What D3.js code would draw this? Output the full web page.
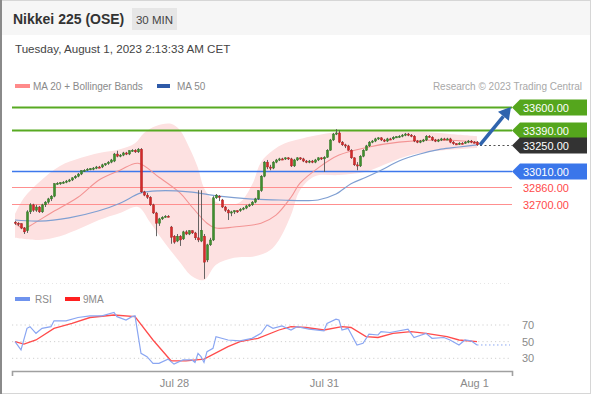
<!DOCTYPE html>
<html>
<head>
<meta charset="utf-8">
<script src="https://cdn.jsdelivr.net/npm/d3@7"></script>
<style>
  html, body { margin: 0; padding: 0; background: #fff; }
  svg { display: block; font-family: "Liberation Sans", Arial, sans-serif; }
</style>
</head>
<body>
<svg id="chart" width="591" height="394"></svg>
<script>
// Nikkei 225 (OSE), 30 min candles (index 0 = first visible bar)
const opens = [
  32535,32525,32520,32480,32455,32630,32695,32645,32675,32630,
  32695,32720,32750,32775,32890,32895,32895,32905,32915,32925,
  32945,32960,32980,33010,33015,33025,33025,33035,33045,33045,
  33065,33075,33090,33100,33165,33145,33155,33175,33165,33195,
  33200,33185,33210,32815,32785,32765,32695,32620,32525,32565,
  32580,32590,32490,32405,32360,32405,32380,32445,32425,32455,
  32435,32390,32360,32405,32185,32325,32370,32760,32775,32740,
  32675,32645,32620,32630,32640,32640,32655,32665,32685,32695,
  32720,32750,32825,32960,33090,33045,33035,33090,33110,33120,
  33120,33130,33120,33055,33110,33130,33120,33100,33090,33100,
  33090,33110,33130,33120,33135,33200,33295,33350,33360,33275,
  33250,33240,33200,33130,33065,33055,33145,33200,33240,33275,
  33285,33305,33315,33295,33285,33305,33305,33320,33320,33330,
  33340,33350,33340,33330,33285,33275,33285,33295,33330,33320,
  33295,33285,33295,33305,33300,33305,33275,33260,33260,33265,
  33265,33275,33285,33275,33275
];
const highs = [
  32545,32535,32525,32490,32645,32710,32705,32695,32685,32705,
  32730,32760,32785,32895,32905,32905,32915,32925,32935,32950,
  32970,32990,33015,33025,33035,33035,33045,33055,33055,33075,
  33080,33100,33120,33175,33195,33165,33185,33185,33200,33210,
  33210,33220,33220,32825,32805,32775,32705,32630,32575,32590,
  32600,32600,32500,32415,32425,32415,32455,32460,32460,32460,
  32445,32830,32830,32425,32335,32390,32775,32795,32785,32750,
  32685,32655,32640,32645,32645,32665,32675,32695,32705,32730,
  32760,32830,32970,33100,33110,33065,33100,33120,33130,33130,
  33135,33135,33130,33120,33135,33135,33130,33110,33110,33110,
  33120,33135,33135,33145,33210,33305,33360,33395,33385,33285,
  33260,33250,33210,33135,33090,33155,33210,33250,33285,33295,
  33315,33320,33320,33305,33315,33315,33330,33330,33340,33350,
  33360,33360,33350,33340,33295,33295,33305,33340,33340,33330,
  33305,33305,33315,33315,33315,33315,33285,33265,33275,33275,
  33285,33295,33295,33285,33285
];
const lows = [
  32510,32500,32470,32425,32435,32610,32630,32630,32620,32620,
  32675,32705,32730,32765,32880,32880,32890,32895,32905,32915,
  32935,32950,32970,33000,33010,33015,33015,33025,33035,33035,
  33055,33065,33080,33090,33135,33135,33145,33155,33155,33185,
  33175,33175,32805,32775,32750,32685,32610,32405,32500,32555,
  32575,32580,32335,32335,32350,32315,32370,32415,32415,32425,
  32370,32350,32350,32010,32165,32315,32360,32750,32730,32665,
  32630,32555,32590,32610,32620,32630,32645,32655,32675,32685,
  32710,32740,32815,32950,33025,33015,33025,33080,33100,33110,
  33110,33110,33045,33045,33100,33110,33090,33080,33080,33080,
  33080,33100,33110,33000,33130,33195,33285,33340,33265,33240,
  33220,33195,33120,33055,33015,33045,33135,33195,33230,33265,
  33275,33295,33285,33275,33275,33295,33295,33315,33315,33320,
  33330,33330,33320,33275,33265,33265,33275,33285,33315,33285,
  33275,33275,33285,33295,33295,33265,33250,33250,33250,33255,
  33260,33265,33265,33265,33240
];
const closes = [
  32525,32520,32480,32445,32630,32695,32645,32675,32630,32695,
  32720,32750,32775,32890,32895,32900,32905,32915,32925,32945,
  32960,32980,33010,33015,33025,33030,33035,33045,33040,33065,
  33075,33090,33110,33165,33145,33155,33175,33165,33195,33200,
  33185,33210,32815,32785,32765,32695,32620,32525,32565,32580,
  32590,32585,32395,32350,32405,32370,32445,32425,32455,32435,
  32390,32370,32460,32165,32325,32370,32760,32785,32765,32675,
  32645,32620,32630,32640,32635,32655,32665,32685,32695,32720,
  32750,32825,32960,33090,33045,33035,33090,33110,33120,33115,
  33130,33120,33055,33110,33130,33120,33100,33090,33100,33090,
  33110,33130,33120,33135,33200,33295,33350,33360,33275,33250,
  33240,33200,33130,33065,33055,33145,33200,33240,33275,33285,
  33305,33315,33295,33285,33305,33300,33320,33325,33330,33340,
  33350,33340,33330,33285,33275,33285,33295,33330,33320,33295,
  33285,33295,33305,33300,33305,33275,33260,33255,33265,33260,
  33275,33285,33275,33270,33250
];

// indicators: [bar index, value]
const ma20 = [[0,32525],[3,32480],[7,32535],[12,32620],[21,32765],[28,32925],[35,33015],[41,33080],
  [48,32950],[55,32805],[59,32675],[64,32525],[67,32480],[73,32490],[82,32525],[87,32600],[92,32765],
  [95,32895],[101,33035],[108,33155],[118,33230],[128,33275],[142,33295],[154,33275]];
const bbUpper = [[0,32610],[3,32760],[8,32905],[15,33055],[22,33130],[28,33175],[35,33210],[40,33265],
  [43,33360],[47,33425],[52,33445],[55,33385],[58,33230],[61,33035],[63,32850],[66,32740],[70,32695],
  [75,32720],[79,32880],[82,33090],[86,33200],[90,33265],[95,33305],[105,33360],[115,33385],
  [125,33380],[135,33370],[145,33350],[154,33330]];
const bbLower = [[0,32390],[8,32370],[15,32405],[22,32480],[28,32555],[35,32620],[41,32675],[45,32535],
  [50,32340],[55,32165],[59,32035],[63,32000],[67,32140],[73,32205],[80,32220],[85,32275],[88,32370],
  [92,32600],[95,32830],[100,32960],[108,32970],[117,33000],[123,33065],[130,33140],[138,33185],[154,33220]];
const ma50 = [[0,32555],[8,32545],[18,32575],[28,32640],[35,32710],[42,32805],[48,32825],[58,32815],
  [68,32775],[78,32750],[88,32740],[101,32740],[107,32795],[112,32890],[117,32950],[122,33015],
  [128,33100],[135,33165],[142,33210],[148,33230],[154,33250]];

const rsi = [[0,50],[2,40],[4,66],[5,68],[7,60],[9,66],[12,68],[13,75],[17,75],[21,79],[25,81],[29,81],
  [33,85],[34,80],[37,76],[39,80],[40,81],[42,36],[44,32],[46,24],[48,24],[51,29],[53,23],[56,28],
  [59,28],[60,25],[61,36],[62,32],[63,25],[64,38],[66,42],[67,56],[71,52],[75,51],[79,54],[82,60],
  [84,70],[86,66],[89,69],[92,64],[94,68],[98,65],[103,63],[104,72],[107,77],[108,76],[109,64],
  [111,66],[114,46],[116,48],[118,59],[121,58],[122,62],[125,61],[131,65],[133,55],[137,60],
  [139,54],[143,55],[145,52],[148,46],[150,52],[152,51],[154,46]];
const rsiMa = [[0,50],[3,47],[7,52],[13,66],[19,72],[25,79],[33,82],[40,80],[46,52],[52,27],[57,27],
  [63,29],[71,44],[75,50],[81,54],[88,64],[92,68],[97,67],[103,64],[109,68],[112,67],[117,56],
  [121,55],[126,60],[132,62],[137,60],[144,56],[148,52],[154,50]];

const levels = [33600, 33390, 33250, 33010, 32860, 32700];
const levelKinds = ["resistance", "resistance", "last", "pivot", "support", "support"];
const rsiTicks = [70, 50, 30];
const dateTicks = [53, 103, 153];
const dateLabels = ["Jul 28", "Jul 31", "Aug 1"];

const W = 591, H = 394;
const svg = d3.select("#chart");

// frame + header
svg.append("rect").attr("x", 0.5).attr("y", 0.5).attr("width", W - 1).attr("height", H - 1)
  .attr("fill", "#fff").attr("stroke", "#d6d6d6");
svg.append("rect").attr("x", 1).attr("y", 1).attr("width", W - 2).attr("height", 34).attr("fill", "#f6f6f6");
svg.append("line").attr("x1", 1).attr("x2", 1).attr("y1", 0).attr("y2", H)
  .attr("stroke", "#8a8a8a").attr("stroke-width", 2);

svg.append("text").attr("x", 13).attr("y", 24)
  .style("font-size", "14px").style("font-weight", "bold").attr("fill", "#333")
  .text("Nikkei 225 (OSE)");
svg.append("rect").attr("x", 132).attr("y", 8).attr("width", 45).attr("height", 22).attr("fill", "#e6e6e6");
svg.append("text").attr("x", 154.5).attr("y", 23.5).attr("text-anchor", "middle")
  .style("font-size", "11.5px").attr("fill", "#444").text("30 MIN");
svg.append("text").attr("x", 15).attr("y", 53)
  .style("font-size", "11.6px").attr("fill", "#444")
  .text("Tuesday, August 1, 2023 2:13:33 AM CET");

// legends
svg.append("rect").attr("x", 15).attr("y", 84).attr("width", 15).attr("height", 4).attr("fill", "#ff8a8a");
svg.append("text").attr("x", 33).attr("y", 90).style("font-size", "10px").attr("fill", "#8a8a8a")
  .text("MA 20 + Bollinger Bands");
svg.append("rect").attr("x", 157).attr("y", 84).attr("width", 13).attr("height", 4).attr("fill", "#2e5aa8");
svg.append("text").attr("x", 177).attr("y", 90).style("font-size", "10px").attr("fill", "#8a8a8a")
  .text("MA 50");
svg.append("text").attr("x", 582).attr("y", 90).attr("text-anchor", "end")
  .style("font-size", "10px").attr("fill", "#a8a8a8").text("Research \u00a9 2023 Trading Central");

svg.append("rect").attr("x", 15).attr("y", 297).attr("width", 15).attr("height", 4).attr("fill", "#6f93ee");
svg.append("text").attr("x", 35).attr("y", 303).style("font-size", "10px").attr("fill", "#8a8a8a").text("RSI");
svg.append("rect").attr("x", 65).attr("y", 297).attr("width", 15).attr("height", 4).attr("fill", "#ff2020");
svg.append("text").attr("x", 83).attr("y", 303).style("font-size", "10px").attr("fill", "#8a8a8a").text("9MA");

// scales
const x = d3.scaleLinear().domain([0, 154]).range([15, 477]);
const y = d3.scaleLinear().domain([32700, 33600]).range([204.3, 107]);
const yr = d3.scaleLinear().domain([30, 70]).range([358.3, 325]);
const left = 12, right = 512;

// panel separator
svg.append("line").attr("x1", left).attr("x2", 510).attr("y1", 283.5).attr("y2", 283.5)
  .attr("stroke", "#e6e6e6").attr("stroke-dasharray", "1,3");

// Bollinger band fill
const bandLine = d3.line().x(d => x(d[0])).y(d => y(d[1])).curve(d3.curveCatmullRom);
const lowerRev = bbLower.slice().reverse();
svg.append("path")
  .attr("d", bandLine(bbUpper) + "L" + bandLine(lowerRev).slice(1) + "Z")
  .attr("fill", "#fde1e1");

// level lines
const levelColor = { resistance: "#58aa22", pivot: "#3d78ec", support: "#ff8f8f", last: "#444" };
levels.forEach((lv, i) => {
  const kind = levelKinds[i];
  const ly = Math.round(y(lv)) + 0.5;
  if (kind === "last") {
    svg.append("line").attr("x1", x(154) + 3).attr("x2", right).attr("y1", ly).attr("y2", ly)
      .attr("stroke", "#555").attr("stroke-width", 1.2).attr("stroke-dasharray", "2,2.5");
  } else {
    svg.append("line").attr("x1", left).attr("x2", right).attr("y1", ly).attr("y2", ly)
      .attr("stroke", levelColor[kind])
      .attr("stroke-width", kind === "resistance" ? 2 : kind === "pivot" ? 1.6 : 1);
  }
});

// moving averages
const maLine = d3.line().x(d => x(d[0])).y(d => y(d[1])).curve(d3.curveCatmullRom);
svg.append("path").attr("d", maLine(ma20)).attr("fill", "none")
  .attr("stroke", "#f39494").attr("stroke-width", 1.1);
svg.append("path").attr("d", maLine(ma50)).attr("fill", "none")
  .attr("stroke", "#7f9fd2").attr("stroke-width", 1.2);

// candles
const idx = d3.range(closes.length);
svg.append("g").selectAll("line").data(idx).join("line")
  .attr("x1", i => x(i) + 0.5).attr("x2", i => x(i) + 0.5)
  .attr("y1", i => y(highs[i])).attr("y2", i => y(lows[i]))
  .attr("stroke", "#555").attr("stroke-width", 0.9);
svg.append("g").selectAll("rect").data(idx).join("rect")
  .attr("x", i => x(i) - 0.6)
  .attr("width", 2.2)
  .attr("y", i => y(Math.max(opens[i], closes[i])))
  .attr("height", i => Math.max(1.2, Math.abs(y(opens[i]) - y(closes[i]))))
  .attr("fill", i => closes[i] >= opens[i] ? "#3f8f2e" : "#d42a2a")
  .attr("stroke", i => closes[i] >= opens[i] ? "#2f6e22" : "#a51e1e")
  .attr("stroke-width", 0.4);

// target arrow
const ax0 = x(154) + 3, ay0 = y(closes[154]);
const ax1 = right - 1, ay1 = y(levels[0]);
const len = Math.hypot(ax1 - ax0, ay1 - ay0);
const ux = (ax1 - ax0) / len, uy = (ay1 - ay0) / len;
const bx = ax1 - ux * 12, by = ay1 - uy * 12;
svg.append("line").attr("x1", ax0).attr("y1", ay0).attr("x2", bx).attr("y2", by)
  .attr("stroke", "#2f64ae").attr("stroke-width", 3.5);
svg.append("path")
  .attr("d", `M${ax1},${ay1}L${bx - uy * 7},${by + ux * 7}L${bx + uy * 7},${by - ux * 7}Z`)
  .attr("fill", "#2f64ae");

// level tags
const tagFill = { resistance: "#55a61d", pivot: "#3a76ea", last: "#333" };
levels.forEach((lv, i) => {
  const kind = levelKinds[i];
  const ty = Math.round(y(lv)) + 0.5;
  if (kind !== "support") {
    svg.append("path")
      .attr("d", `M${right},${ty}L${right + 8},${ty - 8}L587,${ty - 8}L587,${ty + 8}L${right + 8},${ty + 8}Z`)
      .attr("fill", tagFill[kind]);
  }
  svg.append("text").attr("x", 523).attr("y", ty + 4)
    .style("font-size", "11px")
    .attr("fill", kind === "support" ? "#ff4a4a" : "#fff")
    .text(d3.format(".2f")(lv));
});

// RSI panel
rsiTicks.forEach(t => {
  svg.append("line").attr("x1", left).attr("x2", 510).attr("y1", yr(t)).attr("y2", yr(t))
    .attr("stroke", "#d0d0d0").attr("stroke-dasharray", "1.2,3");
  svg.append("text").attr("x", 522).attr("y", yr(t) + 4)
    .style("font-size", "11px").attr("fill", "#8a8a8a").text(t);
});
const rLine = d3.line().x(d => x(d[0])).y(d => yr(d[1]));
svg.append("path").attr("d", rLine(rsiMa)).attr("fill", "none")
  .attr("stroke", "#ff4b4b").attr("stroke-width", 1.3);
svg.append("path").attr("d", rLine(rsi)).attr("fill", "none")
  .attr("stroke", "#8aa6f2").attr("stroke-width", 1.2);
const lastR = rsi[rsi.length - 1];
svg.append("line").attr("x1", x(lastR[0])).attr("x2", 510)
  .attr("y1", yr(lastR[1])).attr("y2", yr(lastR[1]))
  .attr("stroke", "#8aa6f2").attr("stroke-dasharray", "1.5,2.5");

// time axis
const xAxisScale = d3.scaleLinear().domain([x.invert(left), x.invert(right)]).range([left, right]);
const axis = svg.append("g").attr("transform", "translate(0,371)")
  .call(d3.axisBottom(xAxisScale).tickValues(dateTicks)
    .tickFormat((d, i) => dateLabels[i]).tickSizeInner(0).tickSizeOuter(5).tickPadding(8));
axis.select(".domain").attr("stroke", "#a0a0a0").attr("stroke-width", 1.6);
axis.selectAll("text").style("font-size", "11px").style("font-family", "'Liberation Sans', Arial, sans-serif")
  .attr("fill", "#8a8a8a");
</script>
</body>
</html>
